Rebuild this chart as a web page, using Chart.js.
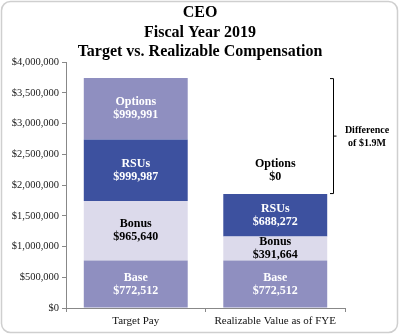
<!DOCTYPE html>
<html>
<head>
<meta charset="utf-8">
<script src="https://cdn.jsdelivr.net/npm/chart.js@4/dist/chart.umd.min.js"></script>
<style>
  html, body { margin: 0; padding: 0; background: #fff; }
  #wrap { width: 400px; height: 335px; position: relative; }
</style>
</head>
<body>
<div id="wrap"><canvas id="c" width="400" height="335"></canvas></div>
<script>
// data
const categories = ['Target Pay', 'Realizable Value as of FYE'];
const seriesNames = ['Base', 'Bonus', 'RSUs', 'Options'];
const baseVals = [772512, 772512];
const bonusVals = [965640, 391664];
const rsuVals = [999987, 688272];
const optionVals = [999991, 0];
const titleLines = ['CEO', 'Fiscal Year 2019', 'Target vs. Realizable Compensation'];
const diffLabel = ['Difference', 'of $1.9M'];

const colors = ['#8f8fc0', '#dcdaeb', '#3d519f', '#8f8fc0'];
const labelColors = ['#ffffff', '#000000', '#ffffff', '#ffffff'];
const serif = '"Liberation Serif", "Times New Roman", serif';
const money = v => '$' + Math.round(v).toLocaleString('en-US');

// border + title
const frame = {
  id: 'frame',
  beforeDraw(chart) {
    const c = chart.ctx;
    c.save();
    c.fillStyle = '#fff';
    c.fillRect(0, 0, 400, 335);
    c.strokeStyle = '#cfcfcf';
    c.lineWidth = 1.5;
    c.beginPath();
    c.roundRect(1.5, 1.5, 396, 331, 9);
    c.stroke();
    c.fillStyle = '#000';
    c.font = 'bold 16px ' + serif;
    c.textAlign = 'center';
    c.textBaseline = 'middle';
    titleLines.forEach((t, i) => c.fillText(t, 200, 13 + i * 19.5));
    c.restore();
  }
};

// segment labels + bracket
const labels = {
  id: 'labels',
  afterDatasetsDraw(chart) {
    const c = chart.ctx;
    const y = chart.scales.y;
    c.save();
    c.textAlign = 'center';
    c.textBaseline = 'middle';
    c.font = 'bold 12px ' + serif;
    chart.data.datasets.forEach((ds, di) => {
      chart.getDatasetMeta(di).data.forEach((el, i) => {
        const v = ds.data[i];
        let cy, col = labelColors[di];
        if (v === 0) {
          cy = el.y - 24;
          col = '#000';
        } else {
          cy = (el.y + el.base) / 2;
        }
        c.fillStyle = col;
        c.fillText(seriesNames[di], el.x, cy - 6.5);
        c.fillText(money(v), el.x, cy + 6.5);
      });
    });
    // bracket between the two stack totals
    const tot0 = baseVals[0] + bonusVals[0] + rsuVals[0] + optionVals[0];
    const tot1 = baseVals[1] + bonusVals[1] + rsuVals[1] + optionVals[1];
    const yTop = y.getPixelForValue(tot0), yBot = y.getPixelForValue(tot1);
    const bx = 333, mid = (yTop + yBot) / 2;
    c.strokeStyle = '#000';
    c.lineWidth = 1;
    c.beginPath();
    c.moveTo(bx - 3, yTop + 0.5);
    c.lineTo(bx + 0.5, yTop + 0.5);
    c.lineTo(bx + 0.5, yBot - 0.5);
    c.lineTo(bx - 3, yBot - 0.5);
    c.moveTo(bx + 0.5, mid);
    c.lineTo(bx + 3.5, mid);
    c.stroke();
    c.fillStyle = '#000';
    c.font = 'bold 10px ' + serif;
    c.fillText(diffLabel[0], 367, mid - 6);
    c.fillText(diffLabel[1], 367, mid + 7);
    c.restore();
  }
};

const valueLists = [baseVals, bonusVals, rsuVals, optionVals];
new Chart(document.getElementById('c'), {
  type: 'bar',
  data: {
    labels: categories,
    datasets: seriesNames.map((n, i) => ({
      label: n,
      data: valueLists[i],
      backgroundColor: colors[i],
      borderWidth: 0,
      barPercentage: 0.745,
      categoryPercentage: 1
    }))
  },
  options: {
    responsive: false,
    animation: false,
    layout: { padding: { top: 62, right: 55, bottom: 0, left: 0 } },
    plugins: { legend: { display: false }, tooltip: { enabled: false }, title: { display: false } },
    scales: {
      x: {
        stacked: true,
        grid: { display: true, drawOnChartArea: false, offset: true, tickLength: 4, color: '#888' },
        border: { color: '#888' },
        ticks: { color: '#111', font: { family: serif, size: 11 }, padding: 3 },
        afterFit(s) { s.height = 27; }
      },
      y: {
        stacked: true,
        min: 0, max: 4000000,
        grid: { display: true, drawOnChartArea: false, tickLength: 4, color: '#888' },
        border: { color: '#888' },
        ticks: { stepSize: 500000, color: '#222', font: { family: serif, size: 10.5 }, padding: 3,
                 callback: v => money(v) },
        afterFit(s) { s.width = 66; }
      }
    }
  },
  plugins: [frame, labels]
});
</script>
</body>
</html>
